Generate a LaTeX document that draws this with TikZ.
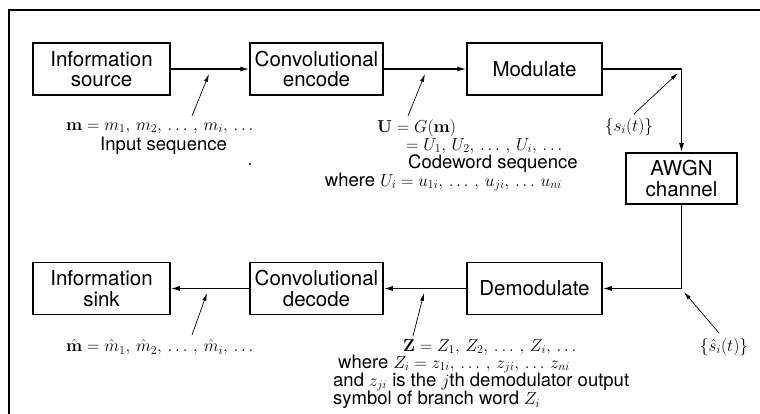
\documentclass[tikz,border=0pt]{standalone}
\usepackage[no-math]{fontspec}
\setmainfont{TeX Gyre Heros}
\usetikzlibrary{arrows.meta,calc}
\newcommand\boxfont{\fontsize{20.5}{20.5}\selectfont}
\newcommand\annfont{\fontsize{18.5}{18}\selectfont}
\begin{document}
\begin{tikzpicture}[x=1pt,y=-1pt,
  box/.style={draw, line width=1.5pt, minimum width=137pt, minimum height=52pt,
              align=center, font=\boxfont, inner sep=0pt},
  conn/.style={line width=1.3pt, -{Latex[length=9pt,width=5pt]}},
  note/.style={line width=0.7pt, -{Latex[length=8pt,width=4pt]}},
  lab/.style={font=\annfont, inner sep=0pt}]
\useasboundingbox (0,0) rectangle (760,414);
\draw[line width=2.2pt] (9,414) -- (9,10) -- (760,10);

% boxes
\node[box, minimum width=137pt] (src) at (101.5,69) {Information\\source};
\node[box, minimum width=133pt] (enc) at (316.5,69) {Convolutional\\encode};
\node[box, minimum width=135pt] (mod) at (534.5,69) {Modulate};
\node[box, minimum width=111pt, minimum height=51pt] (awgn) at (681.5,178.5) {AWGN\\channel};
\node[box, minimum width=135pt] (dem) at (534.5,288.5) {Demodulate};
\node[box, minimum width=133pt] (dec) at (316.5,288.5) {Convolutional\\decode};
\node[box, minimum width=137pt] (snk) at (101.5,288.5) {Information\\sink};

% connectors
\coordinate (ctop) at (mod.east -| awgn.north);
\coordinate (cbot) at (awgn.south |- dem.east);
\draw[conn] (src) -- (enc);
\draw[conn] (enc) -- (mod);
\draw[conn] (mod.east) -- (ctop) -- (awgn.north);
\draw[conn] (awgn.south) -- (cbot) -- (dem.east);
\draw[conn] (dem) -- (dec);
\draw[conn] (dec) -- (snk);

% labels
\node[lab, anchor=west] (mlab) at (66,128) {$\mathbf{m} = m_1,\, m_2,\, \ldots\,,\, m_i,\, \ldots$};
\node[lab, anchor=west] (inseq) at (100,146) {Input sequence};
\fill (250,164) circle (1.2pt);

\node[lab, anchor=west] (Ulab) at (377,128) {$\mathbf{U} = G(\mathbf{m})$};
\node[lab, anchor=west] (Useq) at (406,146) {$= U_1,\, U_2,\, \ldots\,,\, U_i,\, \ldots$};
\node[lab, anchor=west] (cws) at (408,164) {Codeword sequence};
\node[lab, anchor=east] (Uwh) at (562,182) {where $U_i = u_{1i},\, \ldots\,,\, u_{ji},\, \ldots\, u_{ni}$};
\node[lab] (slab) at (629,127) {$\{s_i(t)\}$};

\node[lab, anchor=west] (mhlab) at (66,347) {$\hat{\mathbf{m}} = \hat{m}_1,\, \hat{m}_2,\, \ldots\,,\, \hat{m}_i,\, \ldots$};
\node[lab, anchor=west] (Zlab) at (403,347) {$\mathbf{Z} = Z_1,\, Z_2,\, \ldots\,,\, Z_i,\, \ldots$};
\node[lab, anchor=west] (Zwh) at (338,364) {where $Z_i = z_{1i},\, \ldots\,,\, z_{ji},\, \ldots\, z_{ni}$};
\node[lab, anchor=west] (zand) at (333,382) {and $z_{ji}$ is the $j$th demodulator output};
\node[lab, anchor=west] (zsym) at (333,400) {symbol of branch word $Z_i$};
\node[lab] (shlab) at (724,347) {$\{\hat{s}_i(t)\}$};

% annotation arrows
\coordinate (tm) at (192,116);   \coordinate (pm) at (209,74);
\coordinate (tU) at (408,116);   \coordinate (pU) at (425,74);
\coordinate (ts) at (634,114);   \coordinate (ps) at (678,73);
\coordinate (tmh) at (192,335);  \coordinate (pmh) at (207,293);
\coordinate (tZ) at (413,336);   \coordinate (pZ) at (424,293);
\coordinate (tsh) at (719,333);  \coordinate (psh) at (684,292);
\draw[note] (tm) -- (pm);
\draw[note] (tU) -- (pU);
\draw[note] (ts) -- (ps);
\draw[note] (tmh) -- (pmh);
\draw[note] (tZ) -- (pZ);
\draw[note] (tsh) -- (psh);
\end{tikzpicture}
\end{document}
